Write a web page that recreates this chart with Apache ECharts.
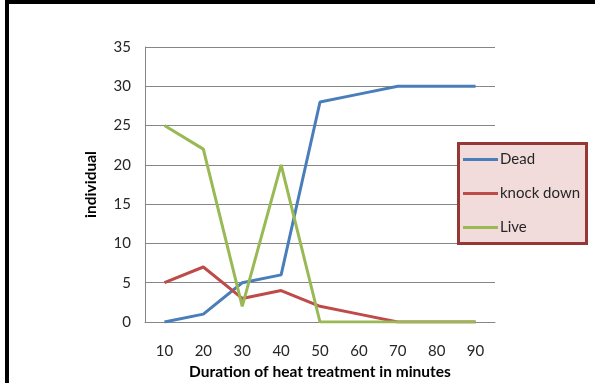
<!DOCTYPE html>
<html>
<head>
<meta charset="utf-8">
<script src="https://cdn.jsdelivr.net/npm/echarts@6/dist/echarts.min.js"></script>
<style>
  html, body { margin: 0; padding: 0; background: #fff; }
  #chart { width: 595px; height: 383px; }
</style>
</head>
<body>
<div id="chart"></div>
<script>
// Heat treatment duration (minutes)
const durations = ['10', '20', '30', '40', '50', '60', '70', '80', '90'];
// Number of individuals in each state
const dead = [0, 1, 5, 6, 28, 29, 30, 30, 30];
const knockDown = [5, 7, 3, 4, 2, 1, 0, 0, 0];
const live = [25, 22, 2, 20, 0, 0, 0, 0, 0];
const yTicks = { min: 0, max: 35, interval: 5 };

const font = 'Lato, "Open Sans", sans-serif';
const chart = echarts.init(document.getElementById('chart'), null, { renderer: 'canvas' });

function lineSeries(name, data, color) {
  return {
    name, type: 'line', data,
    symbol: 'none', smooth: false,
    lineStyle: { color, width: 3 },
    itemStyle: { color },
    z: 3
  };
}

chart.setOption({
  animation: false,
  backgroundColor: '#fff',
  grid: { left: 145, top: 47, right: 100, bottom: 61, containLabel: false, outerBoundsMode: 'none' },
  xAxis: {
    type: 'category',
    data: durations,
    boundaryGap: true,
    name: 'Duration of heat treatment in minutes',
    nameLocation: 'middle',
    nameGap: 40,
    nameTextStyle: { fontFamily: font, fontWeight: 'bold', fontSize: 15.5, color: '#000' },
    axisLine: { lineStyle: { color: '#868686', width: 1 } },
    axisTick: { show: false },
    axisLabel: { fontFamily: font, fontSize: 15, color: '#262626', margin: 22 },
    splitLine: { show: false }
  },
  yAxis: {
    type: 'value',
    min: yTicks.min, max: yTicks.max, interval: yTicks.interval,
    name: 'individual',
    nameLocation: 'middle',
    nameGap: 46,
    nameTextStyle: { fontFamily: font, fontWeight: 'bold', fontSize: 15.5, color: '#000' },
    axisLine: { show: true, lineStyle: { color: '#868686', width: 1 } },
    axisTick: { show: false },
    axisLabel: { fontFamily: font, fontSize: 15, color: '#262626', margin: 14 },
    splitLine: { lineStyle: { color: '#868686', width: 1 } }
  },
  legend: {
    orient: 'vertical',
    left: 463, top: 150,
    icon: 'rect',
    itemWidth: 35, itemHeight: 3,
    itemGap: 15,
    padding: 0,
    textStyle: { fontFamily: font, fontSize: 15, color: '#262626', lineHeight: 19, padding: [0, 0, 0, -3] },
    data: ['Dead', 'knock down', 'Live'],
    z: 10
  },
  graphic: [
    // legend frame
    { type: 'rect', shape: { x: 458.5, y: 143.5, width: 128, height: 100 },
      style: { fill: '#F2DCDB', stroke: '#953735', lineWidth: 3 }, z: 5 },
    // outer frame
    { type: 'rect', shape: { x: 5, y: 0, width: 590, height: 4 }, style: { fill: '#000' }, z: 20 },
    { type: 'rect', shape: { x: 5, y: 0, width: 4, height: 383 }, style: { fill: '#000' }, z: 20 }
  ],
  series: [
    lineSeries('Dead', dead, '#4A7EBB'),
    lineSeries('knock down', knockDown, '#BE4B48'),
    lineSeries('Live', live, '#98B954')
  ]
});
</script>
</body>
</html>
